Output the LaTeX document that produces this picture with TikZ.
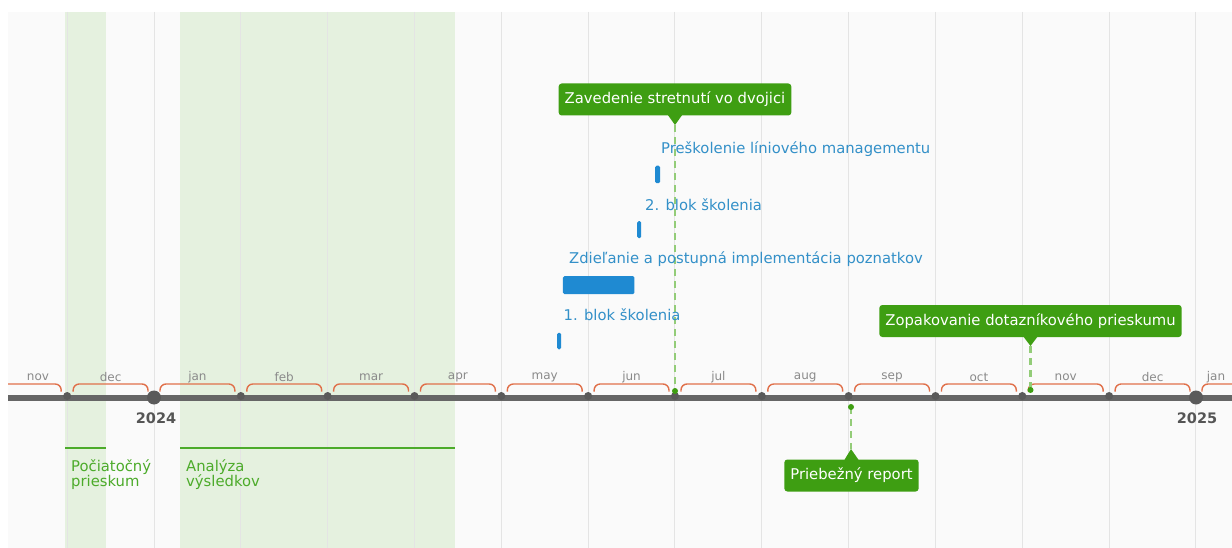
\documentclass[tikz,border=0pt]{standalone}
\usepackage{fontspec}
\setmainfont{DejaVu Sans}
\usetikzlibrary{calc}

\definecolor{panel}{HTML}{FAFAFA}
\definecolor{gridc}{HTML}{E4E4E4}
\definecolor{periodfill}{HTML}{E5F1DF}
\definecolor{axisc}{HTML}{666666}
\definecolor{dotc}{HTML}{5A5A5A}
\definecolor{bracec}{HTML}{E0704A}
\definecolor{monthc}{HTML}{8A8A8A}
\definecolor{yearc}{HTML}{555555}
\definecolor{mgreen}{HTML}{3E9E12}
\definecolor{dashg}{HTML}{93CC78}
\definecolor{rangeg}{HTML}{4CAB2A}
\definecolor{taskb}{HTML}{1F8AD2}
\definecolor{taskt}{HTML}{3390C8}

\tikzset{
  monthlabel/.style={text=monthc, font=\fontsize{12}{14}\selectfont, inner sep=0},
  yearlabel/.style={text=yearc, font=\fontsize{14.5}{16}\selectfont\bfseries, inner sep=0},
  milestone/.style={fill=mgreen, text=white, rounded corners=3, inner xsep=6, inner ysep=0,
    minimum height=32, font=\fontsize{14.8}{17}\selectfont},
  stem/.style={dashg, line width=2.2, dash pattern=on 7 off 5},
  taskbar/.style={fill=taskb, rounded corners=1.5, inner sep=0},
  tasklabel/.style={text=taskt, anchor=west, inner sep=0, font=\fontsize{14.8}{17}\selectfont},
  rangelabel/.style={text=rangeg, anchor=north west, align=left, inner sep=0,
    font=\fontsize{14.8}{15.5}\selectfont},
  rangeline/.style={rangeg, line width=2},
  bracket/.style={bracec, line width=1.4, rounded corners=6},
}

\begin{document}
\begin{tikzpicture}[x=1pt,y=-1pt]
\useasboundingbox (0,0) rectangle (1232,548);
\fill[white] (0,0) rectangle (1232,548);
\fill[panel] (8,12) rectangle (1232,548);

% shaded periods
\fill[periodfill] (65,12) rectangle (106,548);
\fill[periodfill] (180,12) rectangle (455,548);

% month grid
\foreach \i in {-1,...,12}
  \draw[gridc, line width=1] ({154+86.83*\i},12) -- ({154+86.83*\i},548);

% month brackets
\begin{scope}
\clip (8,0) rectangle (1232,548);
\foreach \i in {-2,...,12} {
  \pgfmathsetmacro\xl{154+86.83*\i+6}
  \pgfmathsetmacro\xr{154+86.83*(\i+1)-6}
  \draw[bracket] (\xl,391.5) -- (\xl,384) -- (\xr,384) -- (\xr,391.5);
}
\end{scope}

% month names
\node[monthlabel] (mnov0) at (38,377) {nov};
\foreach \i/\m in {-1/dec,0/jan,1/feb,2/mar,3/apr,4/may,5/jun,6/jul,7/aug,8/sep,9/oct,10/nov,11/dec}
  \node[monthlabel] (m\i) at ({154+86.83*(\i+0.5)},377) {\m};
\node[monthlabel] (mjan1) at (1216,377) {jan};

% axis
\draw[axisc, line width=6] (8,397.5) -- (1232,397.5);
\foreach \i in {-1,1,2,...,11}
  \fill[dotc] ({154+86.83*\i},396) circle (4);
\fill[dotc] (154,397.5) circle (7);
\fill[dotc] (1196,397.5) circle (7);
\node[yearlabel] (y2024) at (156,418) {2024};
\node[yearlabel] (y2025) at (1197,418) {2025};

% analysis periods
\draw[rangeline] (65,447.5) -- (106,447.5);
\draw[rangeline] (180,447.5) -- (455,447.5);
\node[rangelabel] (r1) at (71,459) {Počiatočný\\prieskum};
\node[rangelabel] (r2) at (186,459) {Analýza\\výsledkov};

% milestone stems
\coordinate (t1) at (675,125);
\coordinate (d1) at (675,391);
\coordinate (t2) at (1030.5,346);
\coordinate (d2) at (1030.5,390);
\coordinate (t3) at (851,449);
\coordinate (d3) at (851,407);
\draw[stem] (t1) -- (d1);
\draw[stem] (t2) -- (d2);
\draw[stem] (d3) -- (t3);
\fill[mgreen] (d1) circle (3);
\fill[mgreen] (d2) circle (3);
\fill[mgreen] (d3) circle (3);

% training tasks
\node[taskbar, minimum width=4, minimum height=16.5] (b1) at (559,341) {};
\node[taskbar, minimum width=71.5, minimum height=18] (b2) at (598.7,285.2) {};
\node[taskbar, minimum width=4, minimum height=17] (b3) at (639.2,229.7) {};
\node[taskbar, minimum width=5, minimum height=17.5] (b4) at (657.5,174.5) {};
\node[tasklabel] (l1) at (563.5,315) {1. blok školenia};
\node[tasklabel] (l2) at (569,259.5) {Zdieľanie a postupná implementácia poznatkov};
\node[tasklabel] (l3) at (645,205) {2. blok školenia};
\node[tasklabel] (l4) at (661,149) {Preškolenie líniového managementu};

% milestones
\node[milestone] (ms1) at (675,99.5) {Zavedenie stretnutí vo dvojici};
\fill[mgreen] ($(ms1.south)+(-7,-0.5)$) -- (t1) -- ($(ms1.south)+(7,-0.5)$) -- cycle;
\node[milestone] (ms2) at (1030.5,321) {Zopakovanie dotazníkového prieskumu};
\fill[mgreen] ($(ms2.south)+(-7,-0.5)$) -- (t2) -- ($(ms2.south)+(7,-0.5)$) -- cycle;
\node[milestone] (ms3) at (851.5,475.5) {Priebežný report};
\fill[mgreen] ($(ms3.north)+(-7,0.5)$) -- (t3) -- ($(ms3.north)+(7,0.5)$) -- cycle;
\end{tikzpicture}
\end{document}
